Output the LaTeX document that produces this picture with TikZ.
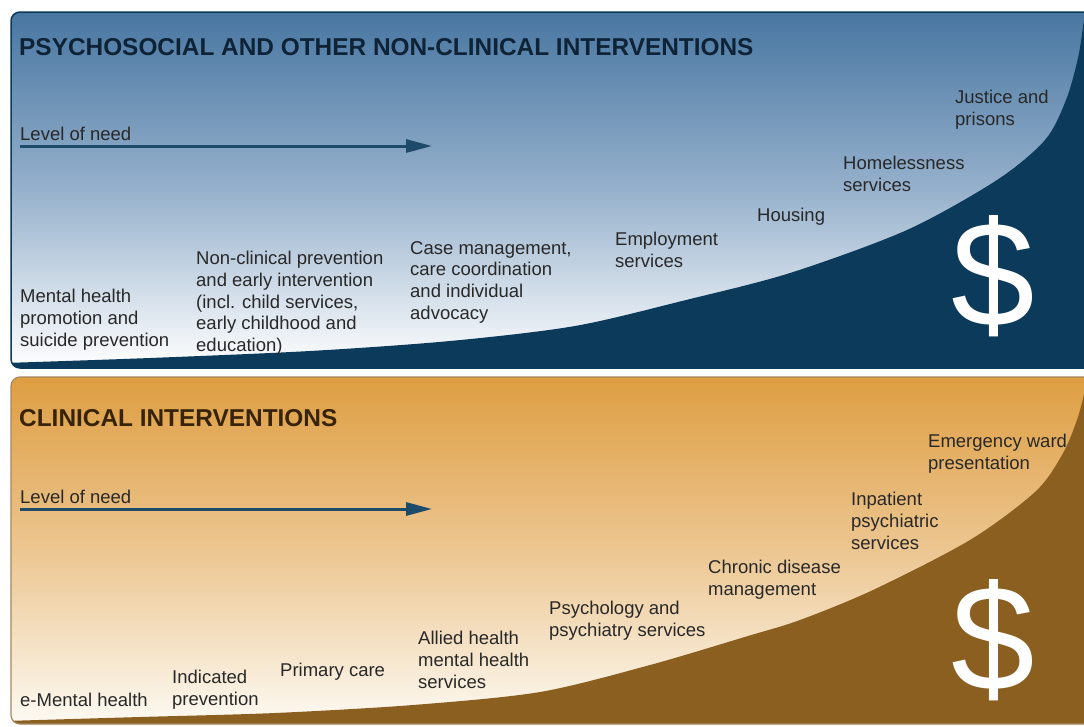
\documentclass[tikz,border=0pt]{standalone}
\usepackage{fontspec}
\setmainfont{Liberation Sans}
\usetikzlibrary{arrows.meta}
\definecolor{navy}{RGB}{11,58,90}
\definecolor{bluetop}{RGB}{72,118,161}
\definecolor{bluemid}{RGB}{150,177,204}
\definecolor{brown}{RGB}{139,95,32}
\definecolor{orangetop}{RGB}{222,158,66}
\definecolor{orangemid}{RGB}{236,198,145}
\definecolor{cream}{RGB}{253,250,243}
\definecolor{arrowcol}{RGB}{30,75,105}
\definecolor{labelcol}{RGB}{40,40,40}
\definecolor{bluetitle}{RGB}{15,35,55}
\definecolor{browntitle}{RGB}{55,35,10}
\definecolor{panelline}{RGB}{165,135,95}
\begin{document}
\begin{tikzpicture}[x=1pt, y=-1pt,
    itembox/.style={anchor=north west, inner sep=0pt, align=left,
        text=labelcol, font=\fontsize{18.5}{21.7}\selectfont},
    paneltitle/.style={anchor=west, inner sep=0pt,
        font=\fontsize{24.4}{28}\selectfont\bfseries},
    needtext/.style={anchor=west, inner sep=0pt, text=labelcol,
        font=\fontsize{18.5}{21.7}\selectfont},
    needarrow/.style={line width=3pt, draw=arrowcol,
        -{Triangle[length=26pt,width=13pt]}},
    dollar/.style={text=white, inner sep=0pt,
        font=\fontsize{150}{150}\selectfont}
]
    \useasboundingbox (0,0) rectangle (1084,726);
    \fill[white] (0,0) rectangle (1084,726);
    \clip (0,0) rectangle (1084,726);

    \begin{scope}
        \clip[rounded corners=9pt] (11,12) rectangle (1100,368);
        \shade[top color=bluetop, bottom color=white, middle color=bluemid]
            (11,12) rectangle (1100,368);
        \fill[navy] (0,368) -- plot[smooth] coordinates {(5,363) (150,358)
            (310,351) (450,341) (575,326) (686,300) (790,273) (907,230)
            (997,180) (1045,140) (1066,100) (1078,58) (1084,20) (1087,0)}
            -- (1100,368) -- cycle;
    \end{scope}
    \draw[navy, line width=1.5pt, rounded corners=9pt] (11,12) rectangle (1100,368);

    \begin{scope}
        \clip[rounded corners=9pt] (11,377) rectangle (1100,724);
        \shade[top color=orangetop, bottom color=cream, middle color=orangemid]
            (11,377) rectangle (1100,724);
        \fill[brown] (0,724) -- plot[smooth] coordinates {(5,721) (140,717)
            (275,713) (413,705) (540,692) (650,665) (748,636) (800,620)
            (873,590) (970,540) (1035,492) (1062,455) (1077,420) (1085,390)
            (1089,370)} -- (1100,724) -- cycle;
    \end{scope}
    \draw[panelline, line width=1.2pt, rounded corners=9pt] (11,377) rectangle (1100,724);

    \node[paneltitle, text=bluetitle] (psytitle) at (19,47)
        {PSYCHOSOCIAL AND OTHER NON-CLINICAL INTERVENTIONS};
    \node[needtext] (need1) at (20,134) {Level of need};
    \coordinate (need1s) at (20,146);
    \coordinate (need1e) at (432,146);
    \draw[needarrow] (need1s) -- (need1e);

    \node[itembox] (mhp) at (20,289) {Mental health\\promotion and\\suicide prevention};
    \node[itembox] (ncp) at (196,251) {Non-clinical prevention\\and early intervention\\(incl. child services,\\early childhood and\\education)};
    \node[itembox] (casemgmt) at (410,241) {Case management,\\care coordination\\and individual\\advocacy};
    \node[itembox] (employ) at (615,232) {Employment\\services};
    \node[itembox] (housing) at (757,208) {Housing};
    \node[itembox] (homeless) at (843,156) {Homelessness\\services};
    \node[itembox] (justice) at (955,90) {Justice and\\prisons};
    \node[dollar] (cost1) at (993,276) {\$};

    \node[paneltitle, text=browntitle] (clintitle) at (19,418)
        {CLINICAL INTERVENTIONS};
    \node[needtext] (need2) at (20,497) {Level of need};
    \coordinate (need2s) at (20,509);
    \coordinate (need2e) at (432,509);
    \draw[needarrow] (need2s) -- (need2e);

    \node[itembox] (emental) at (20,693) {e-Mental health};
    \node[itembox] (indicated) at (172,670) {Indicated\\prevention};
    \node[itembox] (primary) at (280,663) {Primary care};
    \node[itembox] (allied) at (418,631) {Allied health\\mental health\\services};
    \node[itembox] (psych) at (549,601) {Psychology and\\psychiatry services};
    \node[itembox] (chronic) at (708,560) {Chronic disease\\management};
    \node[itembox] (inpatient) at (851,492) {Inpatient\\psychiatric\\services};
    \node[itembox] (emergency) at (928,434) {Emergency ward\\presentation};
    \node[dollar] (cost2) at (993,640) {\$};
\end{tikzpicture}
\end{document}
